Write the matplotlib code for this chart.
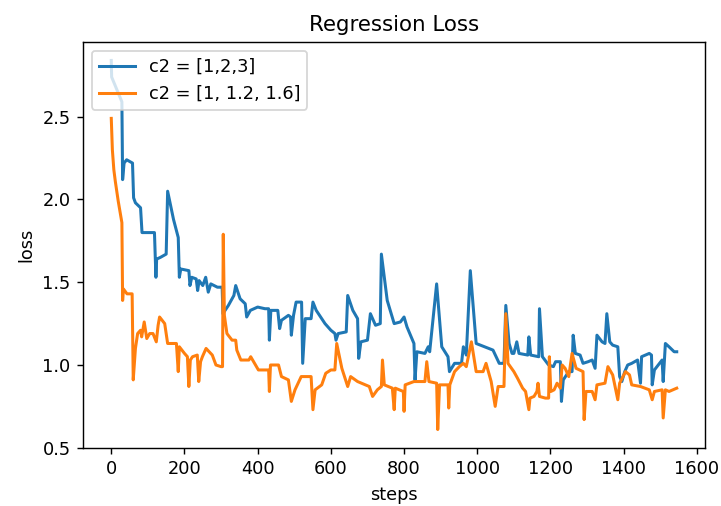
import matplotlib
matplotlib.use("Agg")
import matplotlib.pyplot as plt


# Loss curves (step, loss)
blue_steps = [
    0, 1, 29, 31, 35, 42, 58, 61, 66, 80, 84, 118, 122, 124, 134, 150, 154,
    170, 183, 186, 190, 212, 215, 220, 232, 236, 240, 250, 258, 265, 272,
    290, 303, 305, 320, 335, 340, 352, 366, 370, 380, 400, 420, 430, 432,
    436, 455, 460, 465, 484, 490, 492, 498, 505, 520, 523, 530, 546, 551,
    560, 584, 600, 611, 614, 620, 642, 646, 660, 673, 676, 682, 700, 708,
    722, 735, 738, 754, 773, 790, 800, 808, 827, 830, 835, 857, 866, 870,
    889, 903, 920, 924, 938, 957, 962, 970, 981, 997, 1020, 1043, 1060,
    1073, 1078, 1087, 1095, 1100, 1108, 1114, 1138, 1141, 1146, 1168, 1170,
    1178, 1195, 1208, 1214, 1227, 1230, 1235, 1250, 1259, 1262, 1268, 1281,
    1289, 1303, 1314, 1322, 1327, 1341, 1349, 1354, 1362, 1370, 1384, 1389,
    1395, 1403, 1411, 1422, 1438, 1446, 1449, 1470, 1476, 1478, 1484, 1505,
    1508, 1514, 1524, 1538, 1545,
]
blue_loss = [
    2.84, 2.74, 2.59, 2.12, 2.22, 2.24, 2.22, 2.01, 1.98, 1.95, 1.80, 1.80,
    1.53, 1.64, 1.65, 1.67, 2.05, 1.88, 1.77, 1.53, 1.58, 1.57, 1.48, 1.53,
    1.52, 1.45, 1.51, 1.48, 1.53, 1.44, 1.49, 1.47, 1.47, 1.31, 1.36, 1.42,
    1.48, 1.40, 1.37, 1.29, 1.33, 1.35, 1.34, 1.34, 1.15, 1.33, 1.33, 1.22,
    1.27, 1.30, 1.29, 1.18, 1.30, 1.38, 1.38, 1.01, 1.28, 1.28, 1.38, 1.33,
    1.25, 1.21, 1.19, 1.15, 1.19, 1.20, 1.42, 1.33, 1.28, 1.04, 1.14, 1.15,
    1.31, 1.24, 1.25, 1.67, 1.39, 1.25, 1.26, 1.29, 1.23, 1.13, 0.91, 1.08,
    1.07, 1.11, 1.08, 1.49, 1.11, 1.05, 0.96, 1.01, 1.01, 1.11, 1.06, 1.57,
    1.13, 1.11, 1.09, 1.01, 1.01, 1.36, 1.13, 1.07, 1.07, 1.14, 1.07, 1.06,
    1.17, 1.06, 1.05, 1.34, 1.05, 1.00, 0.99, 1.02, 1.02, 0.78, 0.91, 0.96,
    0.96, 1.18, 1.07, 1.06, 1.01, 1.02, 1.03, 0.98, 1.18, 1.14, 1.13, 1.31,
    1.14, 1.12, 1.11, 0.93, 0.90, 0.96, 1.00, 1.01, 1.03, 0.89, 1.05, 1.07,
    1.06, 0.88, 0.97, 1.03, 0.90, 1.13, 1.11, 1.08, 1.08,
]

orange_steps = [
    0, 3, 7, 11, 19, 29, 31, 33, 43, 57, 60, 66, 72, 80, 83, 90, 97, 105,
    114, 123, 128, 132, 146, 154, 178, 183, 186, 200, 208, 212, 216, 222,
    235, 239, 244, 249, 259, 276, 286, 300, 304, 306, 309, 316, 330, 340,
    343, 354, 376, 381, 394, 402, 430, 432, 435, 457, 465, 484, 492, 502,
    519, 546, 551, 557, 575, 586, 600, 611, 616, 630, 646, 654, 673, 705,
    714, 727, 738, 741, 746, 768, 773, 776, 798, 800, 803, 827, 857, 862,
    868, 889, 892, 897, 920, 922, 925, 938, 951, 962, 970, 984, 997, 1016,
    1024, 1038, 1049, 1057, 1073, 1078, 1084, 1100, 1110, 1124, 1132, 1141,
    1144, 1155, 1163, 1166, 1170, 1186, 1195, 1197, 1201, 1210, 1218, 1227,
    1232, 1240, 1250, 1259, 1270, 1289, 1292, 1297, 1314, 1322, 1327, 1349,
    1357, 1370, 1384, 1389, 1405, 1416, 1422, 1446, 1470, 1478, 1484, 1505,
    1508, 1514, 1524, 1545,
]
orange_loss = [
    2.49, 2.30, 2.18, 2.11, 1.99, 1.86, 1.39, 1.46, 1.43, 1.43, 0.91, 1.10,
    1.19, 1.21, 1.17, 1.26, 1.16, 1.19, 1.19, 1.14, 1.24, 1.29, 1.25, 1.13,
    1.13, 0.96, 1.11, 1.07, 1.05, 0.87, 1.03, 1.05, 1.06, 0.90, 1.02, 1.05,
    1.10, 1.06, 1.00, 0.99, 0.99, 1.79, 1.30, 1.19, 1.15, 1.15, 1.09, 1.03,
    1.03, 1.05, 1.00, 0.97, 0.97, 0.84, 1.00, 1.00, 0.93, 0.91, 0.78, 0.85,
    0.93, 0.93, 0.73, 0.85, 0.88, 0.95, 0.97, 0.97, 1.13, 0.98, 0.87, 0.93,
    0.90, 0.87, 0.81, 0.85, 0.87, 1.03, 0.88, 0.86, 0.73, 0.86, 0.84, 0.72,
    0.88, 0.90, 0.90, 1.02, 0.90, 0.89, 0.61, 0.88, 0.88, 0.74, 0.88, 0.96,
    0.99, 1.01, 0.99, 1.14, 0.96, 0.96, 1.01, 0.90, 0.75, 0.87, 0.87, 1.31,
    1.01, 0.96, 0.92, 0.86, 0.84, 0.73, 0.80, 0.81, 0.84, 0.89, 0.81, 0.80,
    0.80, 1.05, 0.84, 0.85, 0.89, 0.86, 1.00, 0.98, 0.93, 1.07, 0.98, 0.96,
    0.67, 0.84, 0.84, 0.79, 0.88, 0.89, 0.99, 0.94, 0.79, 0.89, 0.96, 0.94,
    0.88, 0.87, 0.85, 0.79, 0.84, 0.85, 0.68, 0.85, 0.84, 0.86,
]

labels = ["c2 = [1,2,3]", "c2 = [1, 1.2, 1.6]"]


DPI = 128
fig = plt.figure(figsize=(721 / DPI, 506 / DPI), dpi=DPI)
ax = fig.add_axes([83 / 721, 1 - 448 / 506, 622 / 721, 406 / 506])

ax.plot(blue_steps, blue_loss, label=labels[0], linewidth=1.7)
ax.plot(orange_steps, orange_loss, label=labels[1], linewidth=1.7)

ax.set_title("Regression Loss")
ax.set_xlabel("steps")
ax.set_ylabel("loss")
ax.set_yticks([0.5, 1.0, 1.5, 2.0, 2.5])

ax.legend(loc="upper left")

fig.savefig("out.png", dpi=DPI)
plt.close(fig)
